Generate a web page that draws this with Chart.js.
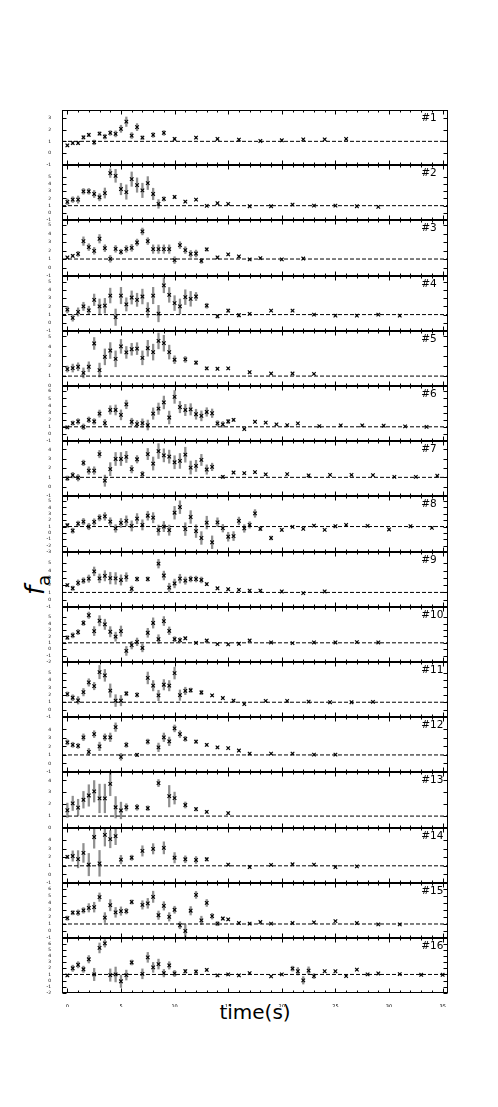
<!DOCTYPE html>
<html>
<head>
<meta charset="utf-8">
<script src="https://cdn.jsdelivr.net/npm/chart.js@4/dist/chart.umd.min.js"></script>
<style>
  body { margin: 0; background: #fff; }
  #wrap { position: relative; width: 498px; height: 1107px; overflow: hidden; }
  canvas { position: absolute; }
  .lab { position: absolute; font-family: "DejaVu Sans", sans-serif; color: #000; white-space: nowrap; line-height: 1; }
</style>
</head>
<body>
<div id="wrap">
  <div class="lab" id="xlab" style="left:0;width:510px;text-align:center;top:1002px;font-size:20px">time(s)</div>
  <div class="lab" id="ylab" style="left:35px;top:585px;font-size:26px;transform:translate(-50%,-50%) rotate(-90deg)"><i>f</i><span style="font-size:18px;position:relative;top:6px">a</span></div>
</div>
<script>
// ----------- data: time (s), f_a, error per panel ----------- //
const t1 = [0,0.5,1,1.5,2,2.5,3,3.5,4,4.5,5,5.5,6,6.5,7,8,9,10,12,14,16,18,20,22,24,26];
const f1 = [0.66,0.86,0.86,1.34,1.54,0.91,1.66,1.4,1.71,1.63,2.06,2.66,1.49,2.2,1.31,1.54,1.71,1.2,1.31,1.2,1.14,1.03,1.09,1.17,1.17,1.2];
const e1 = [0.1,0.12,0.12,0.15,0.15,0.2,0.15,0.2,0.2,0.25,0.3,0.4,0.25,0.3,0.15,0.2,0.2,0.12,0.1,0.08,0.08,0.06,0.06,0.06,0.06,0.06];

const t2 = [0,0.5,1,1.5,2,2.5,3,3.5,4,4.5,5,5.5,6,6.5,7,7.5,8,8.5,9,10,11,12,13,14,15,17,19,21,23,25,27,29];
const f2 = [1.52,1.84,1.84,3.0,3.0,2.63,2.17,2.76,5.53,5.16,3.32,2.9,4.7,3.87,3.13,4.15,2.63,1.24,1.94,2.21,1.57,1.84,0.97,1.34,1.24,0.92,0.92,1.15,1.0,1.0,0.92,0.83];
const e2 = [0.4,0.4,0.5,0.4,0.4,0.5,0.5,0.7,0.6,0.9,0.8,1.0,1.0,1.0,1.0,0.9,0.8,0.6,0.3,0.2,0.12,0.12,0.1,0.1,0.1,0.08,0.08,0.08,0.06,0.06,0.06,0.06];

const t3 = [0,0.5,1,1.5,2,2.5,3,3.5,4,4.5,5,5.5,6,6.5,7,7.5,8,8.5,9,9.5,10,10.5,11,11.5,12,12.5,13,14,15,16,17,18,20,22];
const f3 = [1.18,1.38,1.61,3.11,2.4,1.97,3.39,2.28,1.02,2.2,1.85,2.2,2.32,2.95,4.25,3.11,2.17,2.17,2.17,2.17,0.87,2.64,2.05,1.61,1.65,0.78,2.13,1.18,1.54,1.3,0.95,1.1,0.95,1.06];
const e3 = [0.12,0.15,0.3,0.5,0.4,0.4,0.5,0.4,0.4,0.4,0.3,0.4,0.4,0.4,0.4,0.4,0.5,0.5,0.5,0.5,0.4,0.4,0.4,0.4,0.4,0.3,0.2,0.15,0.12,0.1,0.08,0.08,0.06,0.06];

const t4 = [0,0.5,1,1.5,2,2.5,3,3.5,4,4.5,5,5.5,6,6.5,7,7.5,8,8.5,9,9.5,10,10.5,11,11.5,12,13,14,15,16,17,19,21,23,25,27,29,31];
const f4 = [1.6,0.6,1.32,2.0,1.52,2.8,2.0,2.08,3.32,0.68,3.32,2.24,3.08,2.8,3.2,1.56,3.32,1.12,4.56,3.4,2.4,2.0,3.12,2.92,3.2,2.08,0.8,1.48,0.92,1.08,1.48,1.48,1.0,0.88,0.88,1.0,0.88];
const e4 = [0.4,0.4,0.5,0.5,0.5,0.7,0.9,0.9,0.9,1.0,1.0,0.8,0.8,0.8,0.9,0.9,1.0,1.0,0.9,0.9,0.9,0.9,0.9,0.9,0.5,0.3,0.2,0.2,0.2,0.1,0.08,0.08,0.06,0.06,0.06,0.06,0.06];

const t5 = [0,0.5,1,1.5,2,2.5,3,3.5,4,4.5,5,5.5,6,6.5,7,7.5,8,8.5,9,9.5,10,11,12,13,14,15,17,19,21,23];
const f5 = [1.71,1.81,1.94,1.32,1.94,4.29,1.61,2.94,3.58,2.74,4.0,3.39,3.71,3.77,2.84,3.81,3.42,4.55,4.32,3.42,2.65,2.68,2.35,1.77,1.74,1.77,1.39,1.26,1.26,1.23];
const e5 = [0.3,0.4,0.4,0.5,0.5,0.6,0.7,0.8,0.8,0.8,0.7,0.6,0.6,0.6,0.7,0.8,0.8,0.8,0.8,0.7,0.4,0.3,0.2,0.15,0.1,0.1,0.08,0.06,0.06,0.06];

const t6 = [0,0.5,1,1.5,2,2.5,3,3.5,4,4.5,5,5.5,6,6.5,7,7.5,8,8.5,9,9.5,10,10.5,11,11.5,12,12.5,13,13.5,14,14.5,15,15.5,16.5,17.5,18.5,19.5,20.5,21.5,23.5,25.5,27.5,29.5,31.5,33.5];
const f6 = [0.92,1.52,1.75,1.0,1.98,1.75,2.86,1.52,3.37,3.37,2.68,4.15,1.71,1.38,1.52,1.25,2.86,3.55,4.43,2.31,5.21,3.78,3.37,3.46,2.77,2.54,3.09,2.91,1.48,1.34,1.75,1.98,0.69,1.71,1.6,1.34,1.25,1.48,1.1,1.2,1.2,1.15,1.06,1.0];
const e6 = [0.2,0.3,0.4,0.4,0.4,0.4,0.5,0.5,0.6,0.7,0.7,0.6,0.5,0.5,0.6,0.7,0.8,0.8,0.9,0.9,0.9,0.8,0.8,0.8,0.7,0.7,0.6,0.6,0.4,0.4,0.3,0.2,0.1,0.1,0.08,0.08,0.08,0.08,0.06,0.06,0.06,0.06,0.05,0.05];

const t7 = [0,0.5,1,1.5,2,2.5,3,3.5,4,4.5,5,5.5,6,6.5,7,7.5,8,8.5,9,9.5,10,10.5,11,11.5,12,12.5,13,13.5,14.5,15.5,16.5,17.5,18.5,20.5,22.5,24.5,26.5,28.5,30.5,32.5,34.5];
const f7 = [0.89,1.24,0.96,2.55,1.73,1.73,3.5,0.64,1.88,2.97,2.97,3.19,1.88,2.94,1.35,3.5,2.48,3.82,3.36,3.22,2.62,2.76,3.43,2.05,2.23,2.87,1.84,2.12,1.06,1.52,1.45,1.56,1.31,1.35,1.2,1.27,1.27,1.24,1.06,1.06,1.17];
const e7 = [0.25,0.3,0.35,0.3,0.4,0.4,0.4,0.6,0.7,0.7,0.7,0.6,0.4,0.4,0.3,0.6,0.7,0.8,0.7,0.7,0.7,0.8,0.8,0.7,0.6,0.6,0.5,0.4,0.15,0.1,0.1,0.1,0.08,0.06,0.06,0.06,0.06,0.06,0.05,0.05,0.05];

const t8 = [0,0.5,1,1.5,2,2.5,3,3.5,4,4.5,5,5.5,6,6.5,7,7.5,8,8.5,9,9.5,10,10.5,11,11.5,12,12.5,13,13.5,14,14.5,15,15.5,16,16.5,17,17.5,18,19,20,21,22,23,24,25,26,28,30,32,34];
const f8 = [1.2,0.35,1.47,1.78,1.0,1.72,2.39,2.6,1.78,0.7,1.57,1.88,1.1,2.24,1.26,2.7,2.39,0.43,1.0,0.43,3.17,4.04,0.59,2.5,0.28,-0.8,1.62,-1.47,1.67,0.74,-0.6,-0.5,1.88,0.7,1.26,3.06,0.64,-0.8,0.48,0.95,0.64,1.15,0.48,1.05,1.26,1.1,0.54,1.05,0.79];
const e8 = [0.3,0.4,0.4,0.5,0.5,0.5,0.5,0.6,0.6,0.6,0.7,0.8,0.8,0.8,0.8,0.7,0.8,0.8,0.8,0.8,1.0,1.0,1.0,1.0,1.0,1.0,1.0,1.0,0.7,0.6,0.7,0.7,0.6,0.6,0.5,0.6,0.3,0.3,0.2,0.12,0.12,0.1,0.1,0.1,0.1,0.08,0.08,0.08,0.08];

const t9 = [0,0.5,1,1.5,2,2.5,3,3.5,4,4.5,5,5.5,6,6.5,7.5,8.5,9,9.5,10,10.5,11,11.5,12,12.5,13,14,15,16,17,18,20,22,24];
const f9 = [2.0,1.57,2.32,2.62,2.89,3.89,2.93,3.28,2.97,2.93,2.71,3.11,1.48,2.84,2.84,4.95,3.32,1.66,2.23,2.89,2.62,2.84,2.84,2.71,2.14,1.57,1.44,1.35,1.26,1.26,1.13,0.91,1.13];
const e9 = [0.2,0.3,0.4,0.4,0.5,0.6,0.6,0.7,0.8,0.8,0.7,0.6,0.4,0.3,0.3,0.6,0.6,0.6,0.6,0.6,0.5,0.4,0.4,0.4,0.2,0.12,0.1,0.1,0.08,0.08,0.06,0.06,0.06];

const t10 = [0,0.5,1,1.5,2,2.5,3,3.5,4,4.5,5,5.5,6,6.5,7,7.5,8,8.5,9,9.5,10,10.5,11,12,13,14,15,16,17,19,21,23,25,27,29];
const f10 = [1.81,2.17,2.68,4.1,5.31,2.83,4.45,3.89,2.73,1.96,2.83,-0.27,0.64,1.15,0.19,2.57,4.1,1.56,4.4,2.88,1.56,1.41,1.71,1.0,1.36,0.8,0.75,0.85,1.36,1.05,0.95,1.05,1.05,1.1,1.05];
const e10 = [0.3,0.4,0.4,0.4,0.5,0.7,0.8,0.8,0.8,0.7,0.8,0.7,0.6,0.6,0.6,0.7,0.8,0.7,0.7,0.6,0.4,0.4,0.2,0.15,0.15,0.1,0.1,0.1,0.1,0.08,0.06,0.06,0.06,0.06,0.06];

const t11 = [0,0.5,1,1.5,2,2.5,3,3.5,4,4.5,5,5.5,6.5,7.5,8,8.5,9,9.5,10,10.5,11,11.5,12.5,13.5,14.5,15.5,16.5,18.5,20.5,22.5,24.5,26.5,28.5];
const f11 = [2.1,1.61,1.26,2.36,3.68,3.19,5.08,4.64,2.58,1.22,1.22,2.18,2.0,4.29,3.24,1.92,3.37,3.24,4.95,1.96,2.53,2.62,2.32,1.92,1.57,1.22,0.74,1.18,1.18,1.09,1.0,1.0,1.04];
const e11 = [0.3,0.4,0.5,0.5,0.5,0.5,0.9,0.8,0.9,0.8,0.7,0.3,0.3,0.8,0.7,0.7,0.7,0.7,0.8,0.7,0.5,0.3,0.3,0.15,0.12,0.1,0.08,0.08,0.08,0.06,0.06,0.06,0.06];

const t12 = [0,0.5,1,1.5,2,2.5,3,3.5,4,4.5,5,5.5,6.5,7.5,8.5,9,9.5,10,10.5,11,12,13,14,15,16,17,19,21,23,25];
const f12 = [2.48,2.19,2.07,3.07,1.37,3.44,2.0,3.07,3.07,4.26,0.78,2.19,1.0,2.56,1.89,3.07,2.59,4.11,3.44,2.89,2.56,2.19,1.89,1.81,1.52,1.15,1.15,1.15,1.04,1.04];
const e12 = [0.3,0.3,0.3,0.4,0.4,0.4,0.5,0.4,0.5,0.5,0.4,0.3,0.2,0.3,0.5,0.5,0.5,0.4,0.4,0.3,0.2,0.15,0.12,0.1,0.1,0.08,0.08,0.06,0.06,0.06];

const t13 = [0,0.5,1,1.5,2,2.5,3,3.5,4,4.5,5,5.5,6.5,7.5,8.5,9.5,10,11,12,13,15];
const f13 = [1.49,2.07,1.71,2.37,2.73,3.08,2.48,2.48,3.71,1.74,1.47,1.74,1.74,1.66,3.77,2.67,2.51,1.93,1.58,1.36,1.25];
const e13 = [0.6,0.6,0.7,0.7,0.9,0.9,1.2,1.2,1.0,0.9,0.7,0.3,0.25,0.2,0.3,0.9,0.5,0.25,0.15,0.1,0.1];

const t14 = [0,0.5,1,1.5,2,2.5,3,3.5,4,4.5,5,6,7,8,9,10,11,12,13,15,17,19,21,23,25,27];
const f14 = [2.03,2.14,1.77,2.5,1.14,4.35,1.29,4.6,4.1,4.46,1.72,1.94,2.73,2.98,3.09,1.94,1.76,1.68,1.76,1.14,0.86,1.11,1.18,1.14,0.86,0.93];
const e14 = [0.2,0.6,1.0,1.1,1.3,1.3,1.5,1.3,1.0,1.0,0.5,0.3,0.6,0.6,0.7,0.6,0.4,0.4,0.2,0.12,0.1,0.08,0.08,0.06,0.06,0.06];

const t15 = [0,0.5,1,1.5,2,2.5,3,3.5,4,4.5,5,5.5,6,7,7.5,8,8.5,9,9.5,10,10.5,11,11.5,12,12.5,13,13.5,14,14.5,15,16,17,18,19,21,23,25,27,29,31];
const f15 = [1.83,2.61,2.61,2.94,3.31,3.4,4.83,1.92,3.68,2.66,2.84,2.84,4.14,3.72,3.95,4.88,2.25,3.58,2.02,3.03,0.82,0.0,2.89,5.15,1.51,4.0,2.11,1.05,1.78,1.65,1.14,1.05,1.28,1.05,1.14,1.23,1.42,1.14,0.95,0.95];
const e15 = [0.3,0.3,0.4,0.4,0.6,0.7,0.6,0.7,0.8,0.7,0.6,0.4,0.3,0.6,0.7,0.8,0.6,0.6,0.6,0.5,0.5,0.9,0.6,0.5,0.6,0.5,0.4,0.3,0.2,0.15,0.1,0.1,0.08,0.08,0.06,0.06,0.06,0.06,0.06,0.05];

const t16 = [0,0.5,1,1.5,2,2.5,3,3.5,4,4.5,5,5.5,6,7,7.5,8,8.5,9,9.5,10,11,12,13,14,15,16,17,19,20,21,21.5,22,22.5,23,24,25,26,27,28,29,31,33,35];
const f16 = [0.84,2.0,2.57,1.84,3.46,1.0,5.29,6.03,0.9,1.0,-0.1,0.9,2.94,1.1,3.77,2.15,2.68,1.21,2.47,1.16,1.52,1.47,1.73,0.84,1.0,0.84,1.21,0.69,1.0,1.94,1.52,0.05,1.63,0.74,1.52,1.52,0.74,1.79,1.0,1.16,1.05,0.95,0.95];
const e16 = [0.2,0.5,0.5,0.5,0.6,1.0,0.8,0.6,1.0,1.2,1.0,0.8,0.4,0.8,0.8,0.8,0.8,0.6,0.6,0.5,0.3,0.3,0.2,0.15,0.12,0.1,0.1,0.08,0.08,0.4,0.6,0.6,0.6,0.4,0.1,0.1,0.08,0.1,0.06,0.06,0.06,0.05,0.05];

// axis ranges per panel, x tick labels
const yMin = [-1,-1,-1,-1,0,-1,-1,-3,-1,-2,-1,-1,0,-1,-1,-2];
const yMax = [3.65,6.67,5.6,5.7,5.55,6.75,4.9,5.8,6.55,6.6,6.45,5.45,4.7,5.4,6.85,6.9];
const xTicks = [0,5,10,15,20,25,30,35];
const X_MIN = -0.5, X_MAX = 35.5;

const panels = [
  [t1,f1,e1],[t2,f2,e2],[t3,f3,e3],[t4,f4,e4],[t5,f5,e5],[t6,f6,e6],[t7,f7,e7],[t8,f8,e8],
  [t9,f9,e9],[t10,f10,e10],[t11,f11,e11],[t12,f12,e12],[t13,f13,e13],[t14,f14,e14],[t15,f15,e15],[t16,f16,e16]
];

// ----------- frame, inward ticks and panel label ----------- //
const frame = {
  id: 'frame',
  afterDraw(chart, args, opts) {
    const {ctx, chartArea: a, scales: {x, y}} = chart;
    const L = Math.round(a.left) + 0.5, R = Math.round(a.right) - 0.5;
    const T = Math.round(a.top) + 0.5, B = Math.round(a.bottom) - 0.5;
    ctx.save();
    ctx.strokeStyle = '#000';
    ctx.lineWidth = 1;
    ctx.strokeRect(L, T, R - L, B - T);
    ctx.beginPath();
    for (let v = Math.ceil(x.min); v <= x.max; v++) {
      const px = Math.round(x.getPixelForValue(v)) + 0.5;
      const len = v % 5 === 0 ? 4 : 2;
      ctx.moveTo(px, T); ctx.lineTo(px, T + len);
      ctx.moveTo(px, B); ctx.lineTo(px, B - len);
    }
    y.ticks.forEach(tk => {
      const py = Math.round(y.getPixelForValue(tk.value)) + 0.5;
      ctx.moveTo(L, py); ctx.lineTo(L + 4, py);
      ctx.moveTo(R, py); ctx.lineTo(R - 4, py);
    });
    ctx.stroke();
    ctx.fillStyle = '#000';
    ctx.font = '10.5px "DejaVu Sans"';
    ctx.textAlign = 'left';
    ctx.textBaseline = 'alphabetic';
    ctx.fillText(opts.label, x.getPixelForValue(33), a.top + 11);
    ctx.restore();
  }
};

const wrap = document.getElementById('wrap');
const TOP = 110, PANEL_H = 55.2, PAD = 6;
const isInt = v => Math.abs(v - Math.round(v)) < 1e-6;

panels.forEach(([t, f, e], i) => {
  const top = Math.round(TOP + i * PANEL_H);
  const bot = Math.round(TOP + (i + 1) * PANEL_H);
  const last = i === panels.length - 1;
  const cv = document.createElement('canvas');
  cv.width = 420;
  cv.height = bot - top + PAD + (last ? 14 : PAD);
  cv.style.left = '40px';
  cv.style.top = (top - PAD) + 'px';
  wrap.appendChild(cv);

  new Chart(cv, {
    type: 'scatter',
    data: {
      datasets: [
        {
          type: 'bar',
          data: t.map((x, k) => ({x, y: [f[k] - e[k], f[k] + e[k]]})),
          backgroundColor: '#8f8f8f',
          borderWidth: 0,
          barThickness: 1.6,
          order: 3
        },
        {
          type: 'line',
          data: [{x: X_MIN, y: 1}, {x: X_MAX, y: 1}],
          borderColor: '#000',
          borderWidth: 1,
          borderDash: [4, 2],
          pointRadius: 0,
          order: 2
        },
        {
          type: 'scatter',
          data: t.map((x, k) => ({x, y: f[k]})),
          pointStyle: 'crossRot',
          pointRadius: 2.5,
          pointBorderColor: '#000',
          pointBackgroundColor: '#000',
          pointBorderWidth: 1.1,
          order: 1
        }
      ]
    },
    options: {
      responsive: false,
      animation: false,
      events: [],
      layout: {padding: {top: PAD, bottom: last ? 0 : PAD, left: 0, right: 12}},
      plugins: {
        legend: {display: false},
        tooltip: {enabled: false},
        frame: {label: '#' + (i + 1)}
      },
      scales: {
        x: {
          type: 'linear',
          min: X_MIN, max: X_MAX,
          offset: false,
          display: last,
          grid: {display: false, offset: false},
          border: {display: false},
          afterBuildTicks: s => { s.ticks = xTicks.map(v => ({value: v})); },
          afterFit: s => { s.height = last ? 14 : 0; },
          ticks: {font: {size: 5, family: 'DejaVu Sans'}, color: '#000', padding: 3, maxRotation: 0, autoSkip: false}
        },
        y: {
          type: 'linear',
          min: yMin[i], max: yMax[i],
          grid: {display: false},
          border: {display: false},
          afterBuildTicks: s => { s.ticks = s.ticks.filter(tk => isInt(tk.value)); },
          afterFit: s => { s.width = 22; },
          ticks: {stepSize: 1, font: {size: 4.5, family: 'DejaVu Sans'}, color: '#000', padding: 3, autoSkip: false}
        }
      }
    },
    plugins: [frame]
  });
});
</script>
</body>
</html>
